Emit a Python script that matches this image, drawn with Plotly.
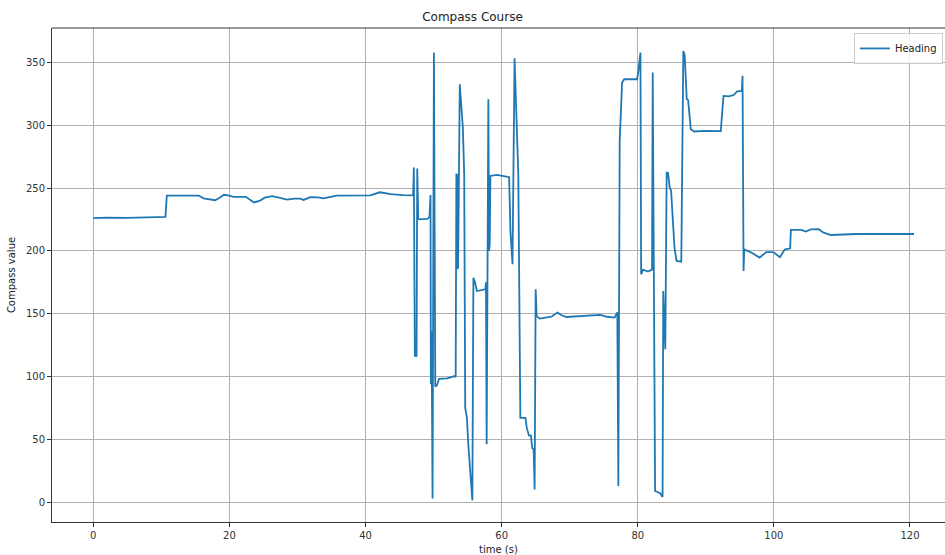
import plotly.graph_objects as go

time_s = [
    0, 2, 5, 8, 10.6, 10.8, 12, 14.3, 15.5, 16.2, 17.2, 17.9, 18.5, 19.2, 20, 20.6,
    22.4, 23, 23.6, 24.5, 25.2, 26.3, 27.2, 28.5, 29.5, 30.4, 30.9, 31.9, 33, 33.8,
    35.8, 37.5, 38.8, 40.7, 42.1, 43.7, 45.5, 47.0, 47.1, 47.25, 47.5, 47.6, 47.75,
    48.5, 49.1, 49.4, 49.55, 49.6, 49.7, 49.75, 49.85, 50.05, 50.25, 50.5, 50.8,
    52.0, 53.1, 53.25, 53.35, 53.45, 53.5, 53.6, 53.85, 54.3, 54.5, 54.65, 54.9,
    55.1, 55.4, 55.7, 55.85, 56.1, 56.35, 57.0, 57.6, 57.7, 57.8, 58.05, 58.15,
    58.2, 58.25, 58.35, 59.3, 60.7, 61.1, 61.3, 61.6, 61.9, 62.1, 62.45, 62.75,
    63.5, 63.7, 64.0, 64.3, 64.5, 64.7, 64.85, 65.0, 65.15, 65.6, 66.3, 67.3,
    68.2, 68.9, 69.5, 71.5, 73.5, 74.5, 75.5, 76.6, 77.0, 77.15, 77.35, 77.5,
    77.7, 78.0, 79.9, 80.1, 80.4, 80.5, 80.8, 81.5, 82.1, 82.2, 82.55, 83.3,
    83.65, 83.75, 83.95, 84.05, 84.25, 84.45, 84.7, 84.9, 85.4, 85.7, 86.4, 86.7,
    86.9, 87.2, 87.4, 87.8, 88.3, 89.8, 92.2, 92.6, 93.4, 94.1, 94.6, 95.3, 95.4,
    95.55, 95.65, 96.7, 97.9, 98.9, 99.9, 100.9, 101.6, 102.4, 102.5, 104, 104.7,
    105.4, 106.6, 107.3, 108.4, 112.1, 117.4, 120.6,
]

heading = [
    226, 226.5, 226.3, 226.6, 227, 244, 244, 244.4, 244, 241.8, 241.2, 240.3, 242,
    244.6, 244, 243, 243, 241, 238.5, 240, 242.3, 243.6, 242.3, 240.8, 241.5,
    241.5, 240.5, 242.8, 242.5, 241.8, 243.9, 244, 244.6, 244.2, 246.6, 245.1,
    244.3, 244.2, 266.3, 116.3, 116.3, 265.6, 225.1, 225, 225.5, 227, 244.5,
    93.7, 136, 94, 2.9, 357.9, 92, 93, 98, 98.5, 100.3, 99.5, 261.5, 185.3, 261,
    186, 332.6, 298, 261, 75, 67, 46, 27, 1.3, 178.6, 174.7, 168, 168.5, 169.4,
    175, 46, 320.7, 200, 240, 205, 259.6, 260.4, 259, 258.6, 215, 189.3, 353.3,
    314, 261, 67, 67, 59, 53, 53, 43, 42, 10, 169.4, 148, 146, 146.5, 147.5,
    150.8, 148.5, 147.3, 147.8, 148.4, 149, 147.5, 146.8, 151, 12.7, 287.5, 306,
    334, 336.6, 336.6, 343, 357.8, 181.3, 185, 183.5, 185, 342, 8.8, 7, 4, 168,
    140, 121.6, 262.3, 262, 250.3, 248, 202.5, 192, 191.4, 359, 356, 320.7, 320,
    296.8, 295, 295.5, 295.3, 323.3, 323, 324, 327, 327.3, 339.3, 184, 201.2,
    198.6, 194.6, 199, 199, 195, 201, 202, 216.6, 216.6, 215.3, 217, 217.2,
    214.5, 212.6, 213.4, 213.4, 213.4,
]

x_ticks = [0, 20, 40, 60, 80, 100, 120]
y_ticks = [0, 50, 100, 150, 200, 250, 300, 350]

fig = go.Figure()
fig.add_trace(go.Scatter(
    x=time_s, y=heading, mode="lines", name="Heading",
    line=dict(color="#1f77b4", width=1.8),
))

font_family = "DejaVu Sans"
fig.update_layout(
    width=945, height=555,
    margin=dict(l=52, r=0, t=28, b=33, autoexpand=False),
    paper_bgcolor="white", plot_bgcolor="white",
    font=dict(family=font_family, size=10, color="#333333"),
    title=dict(text="Compass Course", x=0.5, xanchor="center", y=0.9694,
               yanchor="middle", font=dict(size=12, color="#222222")),
    showlegend=True,
    legend=dict(x=0.898, xanchor="left", y=0.99, yanchor="top",
                bgcolor="rgba(255,255,255,0.8)", bordercolor="#cccccc",
                borderwidth=1, font=dict(size=10, color="#222222"),
                itemwidth=30),
    xaxis=dict(
        range=[-6.07, 125.15], tickvals=x_ticks, ticktext=[str(v) for v in x_ticks],
        showgrid=True, gridcolor="#b0b0b0", gridwidth=0.8, zeroline=False,
        showline=True, linecolor="#333333", linewidth=1,
        ticks="outside", ticklen=4, tickcolor="#333333",
        title=dict(text="time (s)", standoff=6, font=dict(size=10, color="#222222")),
    ),
    yaxis=dict(
        range=[-15.9, 377.4], tickvals=y_ticks, ticktext=[str(v) for v in y_ticks],
        showgrid=True, gridcolor="#b0b0b0", gridwidth=0.8, zeroline=False,
        showline=True, linecolor="#333333", linewidth=1,
        ticks="outside", ticklen=4, tickcolor="#333333",
        title=dict(text="Compass value", standoff=8, font=dict(size=10, color="#222222")),
    ),
)
fig.add_shape(type="line", xref="paper", yref="paper", x0=0, x1=1, y0=1, y1=1,
              line=dict(color="#333333", width=1))

post = (
    "document.body.style.margin='0';"
    "document.body.style.overflow='hidden';"
)
fig.write_html("out.html", config={"displayModeBar": False}, post_script=post)
